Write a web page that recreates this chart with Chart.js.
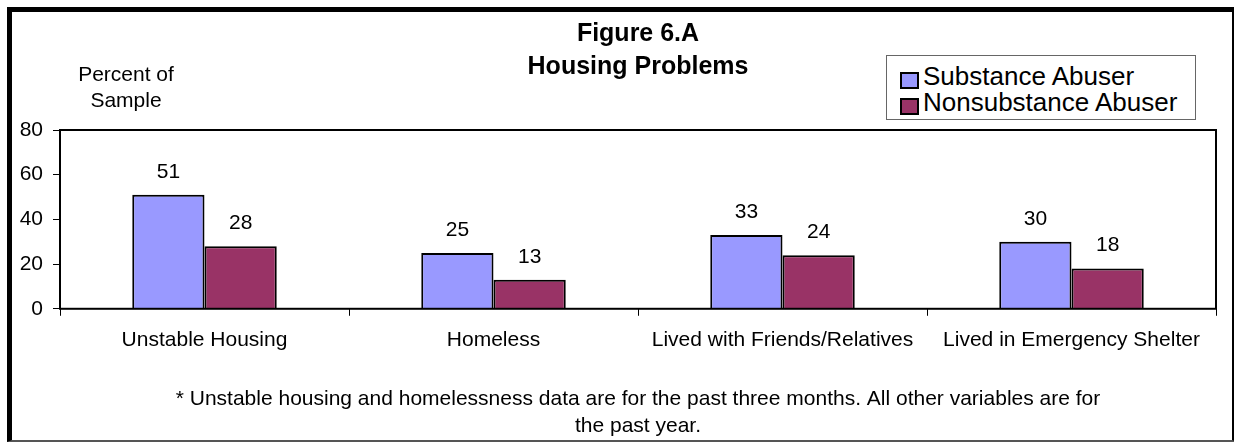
<!DOCTYPE html>
<html>
<head>
<meta charset="utf-8">
<title>Figure 6.A Housing Problems</title>
<script src="https://cdn.jsdelivr.net/npm/chart.js@4/dist/chart.umd.min.js"></script>
<style>
  html, body {
    margin: 0;
    padding: 0;
    background: #fff;
    overflow: hidden;
    width: 1234px;
    height: 443px;
  }
  #marco {
    position: absolute;
    left: 7px;
    top: 7px;
    width: 1230px;
    height: 435px;
    box-sizing: border-box;
    border-top: 5px solid #000;
    border-left: 5px solid #000;
    border-right: 5px solid #000;
    border-bottom: 2px solid #555;
  }
  #grafico {
    position: absolute;
    left: 0;
    top: 0;
  }
  #leyenda {
    position: absolute;
    left: 886px;
    top: 55px;
    width: 310px;
    height: 65px;
    box-sizing: border-box;
    border: 1px solid #666;
    background: #fff;
    padding: 7px 0 0 13px;
    font-family: Arial, "Liberation Sans", sans-serif;
    font-size: 26px;
    color: #000;
  }
  .item-leyenda {
    display: flex;
    align-items: center;
    height: 26px;
    line-height: 26px;
    white-space: nowrap;
  }
  .caja-leyenda {
    width: 19px;
    height: 17px;
    box-sizing: border-box;
    border: 2px solid #000;
    margin-right: 4px;
    position: relative;
    top: 4px;
  }
</style>
</head>
<body>
<div id="marco"></div>
<canvas id="grafico" width="1234" height="443"></canvas>
<div id="leyenda"></div>

<script>
// datos
const categorias = [
  "Unstable Housing",
  "Homeless",
  "Lived with Friends/Relatives",
  "Lived in Emergency Shelter",
];
const abusadores = [51, 25, 33, 30];
const noAbusadores = [28, 13, 24, 18];
const nombresSeries = ["Substance Abuser", "Nonsubstance Abuser"];
const coloresSeries = ["#9999FF", "#993366"];
const ticksY = [0, 20, 40, 60, 80];

const titulo = ["Figure 6.A", "Housing Problems"];
const tituloEje = ["Percent of", "Sample"];
const notaPie = [
  "* Unstable housing and homelessness data are for the past three months. All other variables are for",
  "the past year.",
];

const fuente = 'Arial, "Liberation Sans", sans-serif';
Chart.defaults.font.family = fuente;
Chart.defaults.color = "#000";

// recuadro del area del grafico
const marcoArea = {
  id: "marcoArea",
  afterDatasetsDraw(chart) {
    const { ctx, chartArea } = chart;
    ctx.save();
    ctx.strokeStyle = "#000";
    ctx.lineWidth = 2;
    ctx.strokeRect(
      chartArea.left,
      chartArea.top,
      chartArea.right - chartArea.left,
      chartArea.bottom - chartArea.top
    );
    ctx.restore();
  },
};

// valores encima de las barras
const etiquetasValor = {
  id: "etiquetasValor",
  afterDatasetsDraw(chart) {
    const { ctx } = chart;
    ctx.save();
    ctx.font = `21px ${fuente}`;
    ctx.fillStyle = "#000";
    ctx.textAlign = "center";
    ctx.textBaseline = "middle";
    chart.data.datasets.forEach((ds, i) => {
      chart.getDatasetMeta(i).data.forEach((barra, j) => {
        ctx.fillText(String(ds.data[j]), barra.x, barra.y - 23);
      });
    });
    ctx.restore();
  },
};

// texto del eje y (horizontal, arriba a la izquierda)
const textoEjeY = {
  id: "textoEjeY",
  afterDraw(chart) {
    const { ctx, chartArea } = chart;
    ctx.save();
    ctx.font = `21px ${fuente}`;
    ctx.fillStyle = "#000";
    ctx.textAlign = "center";
    ctx.textBaseline = "middle";
    tituloEje.forEach((linea, i) => {
      ctx.fillText(linea, chartArea.left + 66, chartArea.top - 55 + i * 26);
    });
    ctx.restore();
  },
};

const grafico = new Chart(document.getElementById("grafico"), {
  type: "bar",
  data: {
    labels: categorias,
    datasets: [
      {
        label: nombresSeries[0],
        data: abusadores,
        backgroundColor: coloresSeries[0],
        borderColor: "#000",
        borderWidth: 2,
      },
      {
        label: nombresSeries[1],
        data: noAbusadores,
        backgroundColor: coloresSeries[1],
        borderColor: "#000",
        borderWidth: 2,
      },
    ],
  },
  options: {
    responsive: false,
    animation: false,
    layout: { padding: { left: 19, right: 18, top: 0, bottom: 0 } },
    datasets: {
      bar: { categoryPercentage: 0.5, barPercentage: 1.0 },
    },
    scales: {
      x: {
        grid: {
          drawOnChartArea: false,
          drawTicks: true,
          tickLength: 7,
          color: "#000",
          lineWidth: 1,
        },
        border: { display: false },
        ticks: {
          font: { size: 21 },
          padding: 12,
          maxRotation: 0,
          autoSkip: false,
        },
      },
      y: {
        min: ticksY[0],
        max: ticksY[ticksY.length - 1],
        afterBuildTicks: (escala) => {
          escala.ticks = ticksY.map((v) => ({ value: v }));
        },
        afterFit: (escala) => {
          escala.width = 41;
        },
        grid: {
          drawOnChartArea: false,
          drawTicks: true,
          tickLength: 7,
          color: "#000",
          lineWidth: 1,
        },
        border: { display: false },
        ticks: { font: { size: 21 }, padding: 10 },
      },
    },
    plugins: {
      legend: { display: false },
      tooltip: { enabled: false },
      title: {
        display: true,
        fullSize: false,
        text: titulo,
        color: "#000",
        font: { size: 25, weight: "bold", lineHeight: 1.32 },
        padding: { top: 18, bottom: 46 },
      },
      subtitle: {
        display: true,
        fullSize: false,
        position: "bottom",
        text: notaPie,
        color: "#000",
        font: { size: 21, weight: "normal", lineHeight: 1.31 },
        padding: { top: 20, bottom: 3 },
      },
    },
  },
  plugins: [marcoArea, etiquetasValor, textoEjeY],
});

// leyenda en html (con recuadro)
function renderLeyenda(chart) {
  const cont = document.getElementById("leyenda");
  cont.innerHTML = "";
  chart.data.datasets.forEach((ds) => {
    const fila = document.createElement("div");
    fila.className = "item-leyenda";
    fila.innerHTML = `<span class="caja-leyenda" style="background:${ds.backgroundColor}"></span><span>${ds.label}</span>`;
    cont.appendChild(fila);
  });
}

renderLeyenda(grafico);
</script>
</body>
</html>
